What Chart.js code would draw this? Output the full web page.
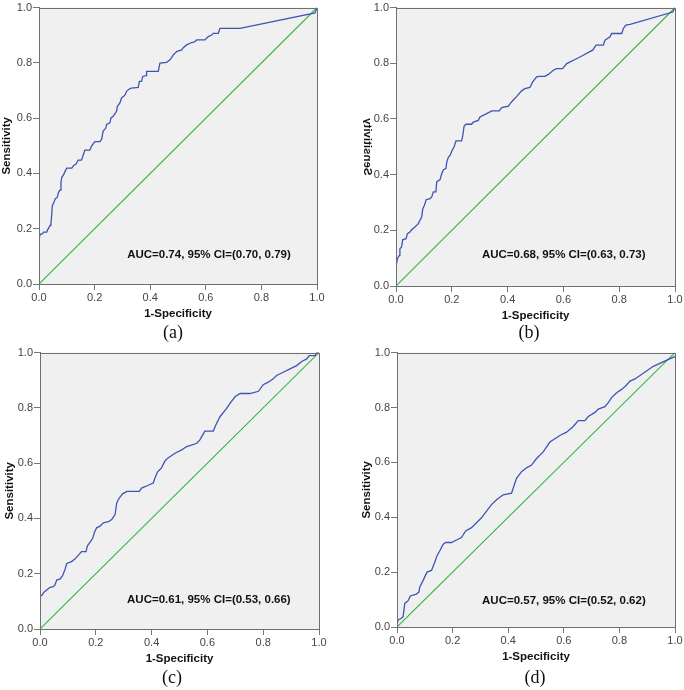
<!DOCTYPE html>
<html lang="en">
<head>
<meta charset="UTF-8">
<title>ROC curves (a)-(d)</title>
<script src="https://cdn.jsdelivr.net/npm/chart.js@4"></script>
<style>
  body { margin: 0; background: #fff; }
  #wrap { position: relative; width: 684px; height: 690px; overflow: hidden; }
  .panel { position: absolute; width: 342px; height: 345px; }
</style>
</head>
<body>
<div id="wrap">
  <div class="panel" style="left:0;top:0"><canvas id="rocA" width="342" height="345"></canvas></div>
  <div class="panel" style="left:342px;top:0"><canvas id="rocB" width="342" height="345"></canvas></div>
  <div class="panel" style="left:0;top:345px"><canvas id="rocC" width="342" height="345"></canvas></div>
  <div class="panel" style="left:342px;top:345px"><canvas id="rocD" width="342" height="345"></canvas></div>
</div>

<script>
// tick values shared by both axes of every panel
const tickValues = [0, 0.2, 0.4, 0.6, 0.8, 1.0];
const captions = ['(a)', '(b)', '(c)', '(d)'];
const aucLabels = [
  'AUC=0.74, 95% CI=(0.70, 0.79)',
  'AUC=0.68, 95% CI=(0.63, 0.73)',
  'AUC=0.61, 95% CI=(0.53, 0.66)',
  'AUC=0.57, 95% CI=(0.52, 0.62)'
];
const refX = [0, 1];
const refY = [0, 1];

// (a)
const fprA = [0, 0.001, 0.004, 0.013, 0.016, 0.028, 0.031, 0.040, 0.043, 0.046, 0.048, 0.054, 0.058, 0.066, 0.070, 0.076, 0.079, 0.082, 0.088, 0.096,
  0.100, 0.118, 0.124, 0.133, 0.141, 0.153, 0.159, 0.165, 0.183, 0.189, 0.201, 0.219, 0.225, 0.231, 0.241, 0.243, 0.255, 0.259, 0.267, 0.279,
  0.282, 0.291, 0.297, 0.309, 0.315, 0.327, 0.333, 0.357, 0.361, 0.369, 0.373, 0.385, 0.387, 0.429, 0.435, 0.459, 0.471, 0.477, 0.483, 0.495,
  0.513, 0.519, 0.531, 0.543, 0.561, 0.567, 0.597, 0.609, 0.621, 0.627, 0.645, 0.651, 0.723, 0.993, 1];
const tprA = [0.146, 0.164, 0.180, 0.182, 0.188, 0.188, 0.196, 0.212, 0.218, 0.254, 0.284, 0.296, 0.308, 0.314, 0.332, 0.340, 0.368, 0.386, 0.395, 0.412,
  0.419, 0.419, 0.428, 0.434, 0.448, 0.448, 0.467, 0.484, 0.484, 0.499, 0.515, 0.515, 0.523, 0.553, 0.565, 0.577, 0.583, 0.601, 0.607, 0.625,
  0.643, 0.655, 0.673, 0.683, 0.697, 0.707, 0.709, 0.711, 0.733, 0.733, 0.751, 0.754, 0.769, 0.769, 0.799, 0.802, 0.811, 0.819, 0.829, 0.841,
  0.847, 0.855, 0.865, 0.871, 0.877, 0.883, 0.883, 0.895, 0.901, 0.907, 0.907, 0.925, 0.925, 0.981, 1];

// (b)
const fprB = [0, 0.005, 0.012, 0.014, 0.020, 0.024, 0.036, 0.041, 0.050, 0.056, 0.068, 0.080, 0.086, 0.092, 0.096, 0.102, 0.108, 0.122, 0.128, 0.134,
  0.143, 0.146, 0.158, 0.164, 0.170, 0.179, 0.182, 0.188, 0.194, 0.200, 0.208, 0.215, 0.235, 0.239, 0.244, 0.251, 0.271, 0.277, 0.295, 0.301,
  0.325, 0.343, 0.370, 0.379, 0.403, 0.409, 0.421, 0.433, 0.450, 0.462, 0.480, 0.490, 0.504, 0.514, 0.534, 0.546, 0.564, 0.576, 0.597, 0.612,
  0.624, 0.636, 0.654, 0.671, 0.693, 0.705, 0.717, 0.743, 0.749, 0.767, 0.773, 0.809, 0.815, 0.824, 0.839, 0.992, 1];
const tprB = [0.068, 0.098, 0.110, 0.134, 0.140, 0.166, 0.170, 0.188, 0.194, 0.202, 0.212, 0.224, 0.236, 0.248, 0.278, 0.290, 0.310, 0.314, 0.320, 0.338,
  0.338, 0.374, 0.382, 0.404, 0.418, 0.422, 0.446, 0.463, 0.469, 0.485, 0.499, 0.521, 0.521, 0.538, 0.574, 0.581, 0.581, 0.589, 0.595, 0.607,
  0.619, 0.629, 0.629, 0.641, 0.646, 0.655, 0.669, 0.681, 0.701, 0.709, 0.713, 0.733, 0.751, 0.753, 0.753, 0.760, 0.775, 0.781, 0.781, 0.799,
  0.805, 0.811, 0.820, 0.829, 0.841, 0.847, 0.865, 0.865, 0.883, 0.895, 0.907, 0.907, 0.925, 0.937, 0.940, 0.984, 1];

// (c)
const fprC = [0, 0.006, 0.014, 0.024, 0.036, 0.048, 0.054, 0.060, 0.072, 0.081, 0.090, 0.096, 0.113, 0.125, 0.141, 0.149, 0.165, 0.170, 0.179, 0.189,
  0.195, 0.203, 0.215, 0.227, 0.245, 0.257, 0.269, 0.275, 0.284, 0.296, 0.311, 0.356, 0.364, 0.388, 0.406, 0.412, 0.421, 0.436, 0.448, 0.460,
  0.484, 0.508, 0.526, 0.562, 0.573, 0.591, 0.621, 0.631, 0.645, 0.669, 0.681, 0.699, 0.717, 0.753, 0.783, 0.800, 0.818, 0.836, 0.848, 0.872,
  0.896, 0.920, 0.938, 0.956, 0.965, 0.986, 0.992, 1];
const tprC = [0.121, 0.121, 0.133, 0.141, 0.151, 0.153, 0.160, 0.177, 0.181, 0.193, 0.217, 0.237, 0.244, 0.253, 0.271, 0.280, 0.280, 0.301, 0.313, 0.328,
  0.349, 0.366, 0.372, 0.384, 0.388, 0.396, 0.414, 0.456, 0.474, 0.489, 0.498, 0.498, 0.510, 0.520, 0.528, 0.546, 0.568, 0.584, 0.608, 0.620,
  0.636, 0.648, 0.660, 0.672, 0.684, 0.716, 0.716, 0.740, 0.768, 0.798, 0.816, 0.840, 0.852, 0.852, 0.860, 0.884, 0.893, 0.905, 0.917, 0.929,
  0.941, 0.953, 0.968, 0.977, 0.989, 0.989, 1.0, 1];

// (d)
const fprD = [0, 0.004, 0.016, 0.022, 0.028, 0.040, 0.048, 0.070, 0.079, 0.082, 0.094, 0.108, 0.124, 0.136, 0.144, 0.154, 0.166, 0.175, 0.196, 0.214,
  0.232, 0.247, 0.268, 0.286, 0.304, 0.322, 0.340, 0.358, 0.382, 0.412, 0.420, 0.430, 0.448, 0.466, 0.484, 0.502, 0.526, 0.550, 0.568, 0.586,
  0.610, 0.634, 0.652, 0.676, 0.688, 0.712, 0.724, 0.748, 0.760, 0.772, 0.790, 0.808, 0.824, 0.838, 0.856, 0.922, 1];
const tprD = [0.008, 0.026, 0.032, 0.038, 0.086, 0.096, 0.113, 0.120, 0.128, 0.146, 0.170, 0.200, 0.206, 0.236, 0.260, 0.278, 0.302, 0.308, 0.308, 0.317,
  0.326, 0.350, 0.362, 0.380, 0.398, 0.422, 0.446, 0.464, 0.482, 0.488, 0.512, 0.542, 0.566, 0.580, 0.590, 0.614, 0.638, 0.674, 0.686, 0.698,
  0.710, 0.731, 0.752, 0.752, 0.767, 0.782, 0.794, 0.803, 0.818, 0.836, 0.854, 0.866, 0.880, 0.896, 0.904, 0.950, 0.986];

const FONT = '"Liberation Sans", Arial, Helvetica, sans-serif';

// layout of each panel inside its canvas (plot box + text spots)
const panels = [
  { id: 'rocA', fpr: fprA, tpr: tprA, box: { l: 39, r: 317, t: 6, b: 284 }, yPad: 0, aucAt: [0.317, 0.104], capX: 173 },
  { id: 'rocB', fpr: fprB, tpr: tprB, box: { l: 54, r: 333, t: 7, b: 286 }, yPad: null, aucAt: [0.308, 0.111], capX: 187 },
  { id: 'rocC', fpr: fprC, tpr: tprC, box: { l: 40, r: 319, t: 5, b: 284 }, yPad: 2.5, aucAt: [0.312, 0.104], capX: 172 },
  { id: 'rocD', fpr: fprD, tpr: tprD, box: { l: 55, r: 333, t: 4, b: 282 }, yPad: 17.5, aucAt: [0.306, 0.097], capX: 193 }
];

// grey plot background, frame, AUC text, caption
const framePlugin = {
  id: 'frame',
  beforeDraw(chart) {
    const { ctx, chartArea: a } = chart;
    ctx.save();
    ctx.fillStyle = '#f0f0f0';
    ctx.fillRect(a.left, a.top, a.right - a.left, a.bottom - a.top);
    ctx.restore();
  },
  afterDraw(chart, args, opts) {
    const { ctx, chartArea: a, scales } = chart;
    ctx.save();
    ctx.strokeStyle = '#6f6f6f';
    ctx.lineWidth = 1;
    ctx.strokeRect(Math.round(a.left) + 0.5, Math.round(a.top) + 0.5, Math.round(a.right - a.left), Math.round(a.bottom - a.top));

    ctx.fillStyle = '#111';
    ctx.font = 'bold 11.5px ' + FONT;
    ctx.textAlign = 'left';
    ctx.textBaseline = 'middle';
    ctx.fillText(opts.auc, scales.x.getPixelForValue(opts.aucAt[0]), scales.y.getPixelForValue(opts.aucAt[1]));

    ctx.font = '18px "Liberation Serif", "Times New Roman", serif';
    ctx.textAlign = 'center';
    ctx.fillText(opts.caption, opts.capX, 333);

    // panel (b) has its y title mirrored and cut off on the left
    if (opts.mirrorTitle) {
      const cy = (a.top + a.bottom) / 2;
      ctx.beginPath();
      ctx.rect(21, a.top, 20, a.bottom - a.top);
      ctx.clip();
      ctx.translate(25, cy);
      ctx.rotate(-Math.PI / 2);
      ctx.scale(1, -1);
      ctx.font = 'bold 11.5px ' + FONT;
      ctx.fillText('Sensitivity', 0, 0);
    }
    ctx.restore();
  }
};

function axis(title, titlePad, fitSize, horizontal) {
  return {
    type: 'linear',
    min: 0,
    max: 1,
    afterBuildTicks: s => { s.ticks = tickValues.map(v => ({ value: v })); },
    afterFit: s => { if (horizontal) s.height = fitSize; else s.width = fitSize; },
    ticks: {
      callback: v => v.toFixed(1),
      color: '#444',
      padding: 1,
      maxRotation: 0,
      autoSkip: false,
      font: { family: FONT, size: 11, lineHeight: 1.2 }
    },
    grid: { drawOnChartArea: false, drawTicks: true, tickLength: 6, color: '#777' },
    border: { display: true, color: '#6f6f6f' },
    title: {
      display: titlePad !== null,
      text: title,
      color: '#111',
      padding: { top: titlePad || 0, bottom: 0 },
      font: { family: FONT, size: 11.5, weight: 'bold', lineHeight: 1.2 }
    }
  };
}

panels.forEach((p, i) => {
  new Chart(document.getElementById(p.id), {
    type: 'line',
    data: {
      datasets: [
        {
          data: p.fpr.map((x, k) => ({ x: x, y: p.tpr[k] })),
          borderColor: '#3d55b5',
          borderWidth: 1.3,
          pointRadius: 0,
          tension: 0
        },
        {
          data: refX.map((x, k) => ({ x: x, y: refY[k] })),
          borderColor: '#2fb53a',
          borderWidth: 1.1,
          pointRadius: 0,
          tension: 0
        }
      ]
    },
    options: {
      responsive: false,
      animation: false,
      layout: {
        autoPadding: false,
        padding: { left: 0, top: p.box.t, right: 342 - p.box.r, bottom: 345 - 37 - p.box.b }
      },
      plugins: {
        legend: { display: false },
        tooltip: { enabled: false },
        frame: { auc: aucLabels[i], aucAt: p.aucAt, caption: captions[i], capX: p.capX, mirrorTitle: p.yPad === null }
      },
      scales: {
        x: axis('1-Specificity', 0, 37, true),
        y: axis('Sensitivity', p.yPad, p.box.l, false)
      }
    },
    plugins: [framePlugin]
  });
});
</script>
</body>
</html>
